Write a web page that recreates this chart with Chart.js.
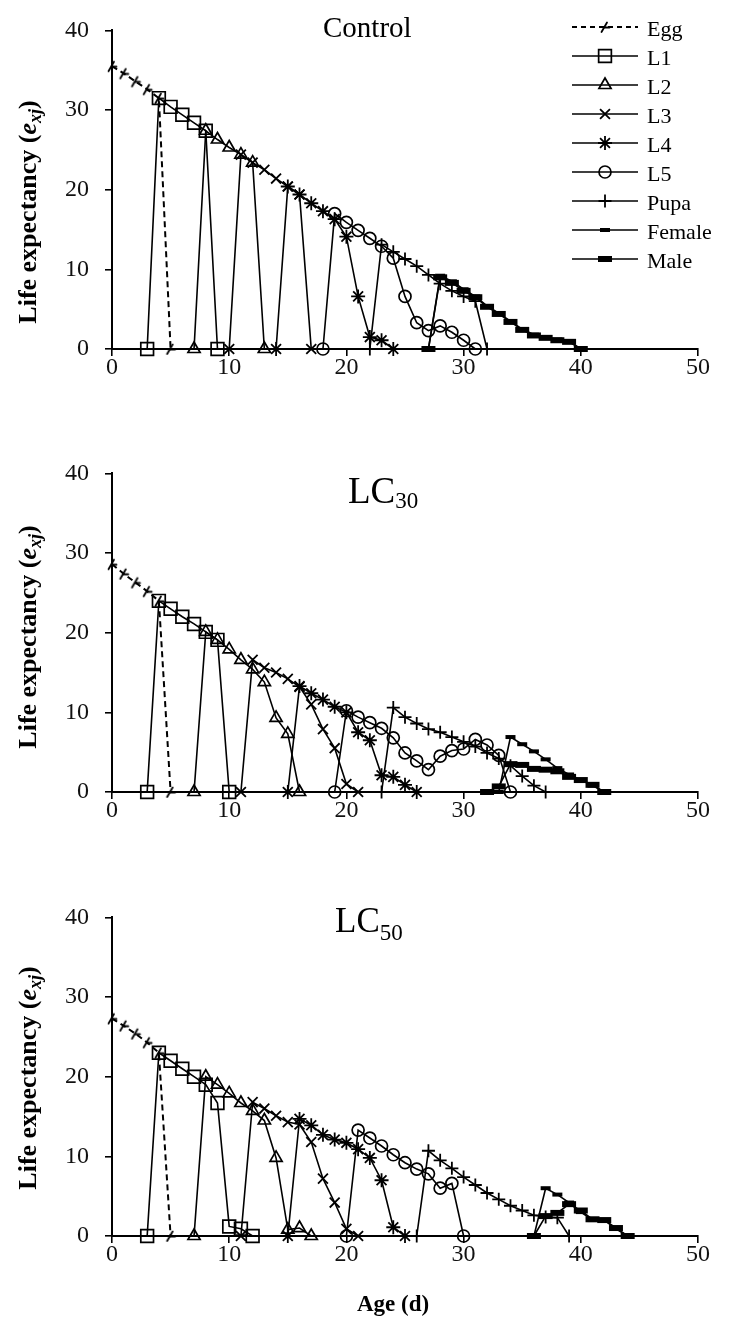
<!DOCTYPE html>
<html><head><meta charset="utf-8">
<script src="https://cdn.jsdelivr.net/npm/chart.js@4.4.1/dist/chart.umd.min.js"></script>
<style>
html,body{margin:0;padding:0;background:#fff;}
body{width:740px;height:1323px;position:relative;overflow:hidden;}
.panel{position:absolute;left:0;width:740px;}
canvas{display:block;}
</style></head><body>
<div class="panel" style="top:0;height:400px"><canvas id="c1" width="740" height="400"></canvas></div>
<div class="panel" style="top:443px;height:400px"><canvas id="c2" width="740" height="400"></canvas></div>
<div class="panel" style="top:887px;height:436px"><canvas id="c3" width="740" height="436"></canvas></div>
<script>
// ---------- DATA ----------
const stages = ['Egg','L1','L2','L3','L4','L5','Pupa','Female','Male'];
const xTicks = [0,10,20,30,40,50];
const yTicks = [0,10,20,30,40];

// Control: first age (d) of each stage, then daily life expectancy values
const ctrlStart  = [0,3,7,10,14,18,22,27,27];
const ctrlEgg    = [35.5,34.6,33.6,32.6,31.5,0];
const ctrlL1     = [0,31.5,30.4,29.4,28.4,27.4,0];
const ctrlL2     = [0,27.4,26.3,25.3,24.4,23.4,0];
const ctrlL3     = [0,24.4,23.4,22.5,21.4,20.4,19.4,0];
const ctrlL4     = [0,20.4,19.4,18.3,17.3,16.3,14.1,6.6,1.5,1.1,0];
const ctrlL5     = [0,17.0,15.9,14.9,13.9,12.9,11.4,6.6,3.3,2.3,2.9,2.1,1.1,0];
const ctrlPupa   = [0,13.1,12.2,11.3,10.4,9.3,8.2,7.3,6.6,6.0,0];
const ctrlFemale = [0,9.2,8.5,7.5,6.6,5.4,4.5,3.5,2.5,1.8,1.5,1.2,1.0,0];
const ctrlMale   = [0,9.0,8.3,7.3,6.5,5.3,4.4,3.4,2.4,1.7,1.4,1.1,0.9,0];

// LC30
const lc30Start  = [0,3,7,11,15,19,23,33,32];
const lc30Egg    = [28.6,27.4,26.3,25.2,24.0,0];
const lc30L1     = [0,24.0,23.0,22.0,21.1,20.1,19.1,0];
const lc30L2     = [0,20.1,19.1,17.9,16.6,15.4,13.8,9.3,7.3,0];
const lc30L3     = [0,16.6,15.6,15.0,14.2,13.2,11.0,7.9,5.5,1.0,0];
const lc30L4     = [0,13.3,12.4,11.6,10.7,10.0,7.5,6.5,2.1,1.9,0.9,0];
const lc30L5     = [0,10.2,9.4,8.7,8.0,6.8,4.9,3.9,2.8,4.5,5.2,5.4,6.6,5.9,4.6,0];
const lc30Pupa   = [0,10.6,9.4,8.6,7.9,7.5,6.9,6.3,5.7,4.9,4.2,3.3,2.0,0.8,0];
const lc30Female = [0,6.9,6.0,5.1,4.1,3.0,2.2,1.5,0.8,0];
const lc30Male   = [0,0.7,3.5,3.4,2.9,2.8,2.6,1.9,1.5,0.9,0];

// LC50
const lc50Start  = [0,3,7,11,15,20,26,36,36];
const lc50Egg    = [27.3,26.4,25.4,24.3,23.0,0];
const lc50L1     = [0,23.0,22.0,21.0,20.0,19.0,16.7,1.2,0.9,0];
const lc50L2     = [0,20.0,19.0,17.9,16.7,15.7,14.5,9.8,0.8,1.0,0];
const lc50L3     = [0,16.8,16.0,15.1,14.3,14.0,11.8,7.2,4.2,0.9,0];
const lc50L4     = [0,14.7,13.9,12.7,12.1,11.7,10.9,9.8,7.0,1.1,0];
const lc50L5     = [0,13.3,12.3,11.3,10.2,9.2,8.4,7.8,6.0,6.6,0];
const lc50Pupa   = [0,10.7,9.5,8.5,7.4,6.4,5.4,4.6,3.8,3.2,2.6,2.4,2.3,0];
const lc50Female = [0,6.0,5.2,4.2,3.0,2.0,2.0,0.9,0];
const lc50Male   = [0,2.5,2.9,4.0,3.2,2.1,2.0,1.0,0];

// ---------- STYLE ----------
const SERIF = '"Liberation Serif", "Times New Roman", serif';
function eggMarker(){
  const c = document.createElement('canvas'); c.width = 14; c.height = 14;
  const g = c.getContext('2d');
  g.strokeStyle = '#000'; g.lineWidth = 1.8; g.lineCap = 'round';
  g.beginPath(); g.moveTo(3.5,12); g.lineTo(9,2.5); g.stroke();
  g.beginPath(); g.moveTo(6.5,7.5); g.lineTo(11.5,7.5); g.stroke();
  return c;
}
const eggImg = eggMarker();
const marks = [
  {style: eggImg,     r: 5, bw: 1.7},
  {style: 'rect',     r: 9, bw: 1.7},
  {style: 'triangle', r: 7, bw: 1.7},
  {style: 'crossRot', r: 7, bw: 1.8},
  {style: 'star',     r: 7, bw: 1.8},
  {style: 'circle',   r: 6, bw: 1.7},
  {style: 'cross',    r: 6.5, bw: 1.8},
  {style: 'line',     r: 5, bw: 4},
  {style: 'line',     r: 7, bw: 6}
];

function makeDatasets(starts, series){
  return stages.map((name,i)=>({
    label: name,
    data: series[i].map((v,k)=>({x: starts[i]+k, y: v})),
    borderColor: '#000',
    backgroundColor: 'rgba(0,0,0,0)',
    borderWidth: i===0 ? 2 : 1.6,
    borderDash: i===0 ? [6,4] : [],
    pointStyle: marks[i].style,
    pointRadius: marks[i].r,
    pointBorderWidth: marks[i].bw,
    pointBorderColor: '#000',
    pointBackgroundColor: 'rgba(0,0,0,0)',
    tension: 0, clip: false, fill: false, showLine: true
  }));
}

function drawParts(ctx, parts, x, y, center){
  let total = 0;
  parts.forEach(p=>{ ctx.font = p.f; p.w = ctx.measureText(p.t).width; total += p.w; });
  let cx = center ? x - total/2 : x;
  parts.forEach(p=>{ ctx.font = p.f; ctx.fillText(p.t, cx, y + (p.dy||0)); cx += p.w; });
}
function drawYTitle(ctx, cx, cy){
  ctx.save();
  ctx.translate(cx, cy); ctx.rotate(-Math.PI/2);
  drawParts(ctx, [
    {t:'Life expectancy (', f:'bold 26px '+SERIF},
    {t:'e', f:'italic bold 26px '+SERIF},
    {t:'xj', f:'italic bold 18px '+SERIF, dy:5},
    {t:')', f:'bold 26px '+SERIF}
  ], 0, 8, true);
  ctx.restore();
}
function drawLegend(ctx){
  stages.forEach((name,i)=>{
    const y = 27 + i*29;
    ctx.save();
    ctx.strokeStyle = '#000'; ctx.lineWidth = i===0 ? 2 : 1.6;
    ctx.setLineDash(i===0 ? [5,4] : []);
    ctx.beginPath(); ctx.moveTo(572, y); ctx.lineTo(638, y); ctx.stroke();
    ctx.setLineDash([]);
    ctx.lineWidth = marks[i].bw; ctx.fillStyle = 'rgba(0,0,0,0)';
    Chart.helpers.drawPoint(ctx, {pointStyle: marks[i].style, radius: marks[i].r, rotation: 0, borderWidth: marks[i].bw}, 605, y);
    ctx.fillStyle = '#000'; ctx.font = '22px '+SERIF; ctx.textBaseline = 'alphabetic'; ctx.textAlign = 'left';
    ctx.fillText(name, 647, y + 8.5);
    ctx.restore();
  });
}

function makeChart(id, datasets, xH, drawExtra){
  const tickFont = {family: SERIF, size: 24};
  return new Chart(document.getElementById(id), {
    type: 'line',
    data: {datasets},
    options: {
      responsive: false, animation: false, devicePixelRatio: 1, events: [],
      layout: {padding: {top: 20, right: 42, left: 0, bottom: 0}},
      plugins: {legend: {display: false}, tooltip: {enabled: false}},
      scales: {
        x: {
          type: 'linear', min: 0, max: 50,
          afterBuildTicks: s => { s.ticks = xTicks.map(v=>({value: v})); },
          afterFit: s => { s.height = xH; },
          ticks: {font: tickFont, color: '#111', padding: -3, maxRotation: 0, autoSkip: false},
          grid: {drawOnChartArea: false, tickLength: 7, color: '#000', lineWidth: 1.6},
          border: {color: '#000', width: 2}
        },
        y: {
          type: 'linear', min: 0, max: 40,
          afterBuildTicks: s => { s.ticks = yTicks.map(v=>({value: v})); },
          afterFit: s => { s.width = 112; },
          ticks: {font: tickFont, color: '#111', padding: 16},
          grid: {drawOnChartArea: false, tickLength: 7, color: '#000', lineWidth: 1.6},
          border: {color: '#000', width: 2}
        }
      }
    },
    plugins: [{id: 'texts_'+id, afterDraw(chart){
      const ctx = chart.ctx; ctx.save();
      ctx.fillStyle = '#000'; ctx.textBaseline = 'alphabetic'; ctx.textAlign = 'left';
      drawExtra(ctx);
      ctx.restore();
    }}]
  });
}

makeChart('c1', makeDatasets(ctrlStart, [ctrlEgg,ctrlL1,ctrlL2,ctrlL3,ctrlL4,ctrlL5,ctrlPupa,ctrlFemale,ctrlMale]), 51, ctx=>{
  drawParts(ctx, [{t:'Control', f:'29px '+SERIF}], 323, 37, false);
  drawYTitle(ctx, 28, 212);
  drawLegend(ctx);
});
makeChart('c2', makeDatasets(lc30Start, [lc30Egg,lc30L1,lc30L2,lc30L3,lc30L4,lc30L5,lc30Pupa,lc30Female,lc30Male]), 51, ctx=>{
  drawParts(ctx, [{t:'LC', f:'37px '+SERIF}, {t:'30', f:'23px '+SERIF, dy:5}], 348, 60, false);
  drawYTitle(ctx, 28, 194);
});
makeChart('c3', makeDatasets(lc50Start, [lc50Egg,lc50L1,lc50L2,lc50L3,lc50L4,lc50L5,lc50Pupa,lc50Female,lc50Male]), 87, ctx=>{
  drawParts(ctx, [{t:'LC', f:'35px '+SERIF}, {t:'50', f:'23px '+SERIF, dy:8}], 335, 45, false);
  drawYTitle(ctx, 28, 191);
  drawParts(ctx, [{t:'Age (d)', f:'bold 23px '+SERIF}], 393, 424, true);
});
</script>
</body></html>
